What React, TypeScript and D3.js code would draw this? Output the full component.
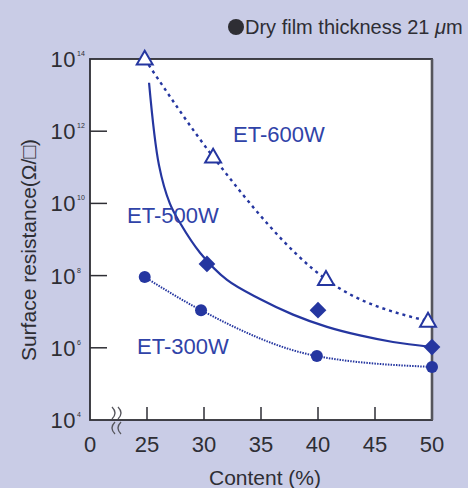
import React from "react";
import * as d3 from "d3";

// ---- data ----
const xTickValues = [25, 30, 35, 40, 45, 50];
const xZeroLabel = "0";
const yTickExps = [4, 6, 8, 10, 12, 14];

const et600X = [24.8, 30.8, 40.7, 49.65];
const et600Y = [1e14, 1.95e11, 7.9e7, 5.5e6];

const et500X = [30.26, 40.0, 50.0];
const et500Y = [2.1e8, 1.1e7, 1.05e6];
const et500FitX = [25.18, 26.05, 27.0, 27.89, 29.65, 32.02, 34.91, 37.81, 40.79, 43.68, 46.58, 50.0];
const et500FitY = [2.2e13, 1.15e11, 1e10, 2.9e9, 4.3e8, 7.6e7, 2.25e7, 8.3e6, 3.8e6, 2.2e6, 1.45e6, 1.05e6];

const et300X = [24.8, 29.74, 39.9, 50.0];
const et300Y = [9.1e7, 1.1e7, 5.9e5, 2.95e5];

const seriesLabels = ["ET-600W", "ET-500W", "ET-300W"];

const W = 468;
const H = 488;
const L = 90, R = 432, T = 59, B = 420;

const BLUE = "#2536a0";
const TEXT_BLUE = "#3043a8";
const GRAY = "#2e2e34";

export default function App() {
  const x = d3.scaleLinear().domain([20, 50]).range([L, R]);
  const y = d3.scaleLog().domain([1e4, 1e14]).range([B, T]);

  const pts = (xs: number[], ys: number[]) => xs.map((v, i) => [x(v), y(ys[i])] as [number, number]);

  const mono = d3.line().curve(d3.curveMonotoneX);
  const cr = d3.line().curve(d3.curveCatmullRom.alpha(0.5));

  const p600 = pts(et600X, et600Y);
  const p500 = pts(et500X, et500Y);
  const p500fit = pts(et500FitX, et500FitY);
  const p300 = pts(et300X, et300Y);

  const tri = d3.symbol().type(d3.symbolTriangle).size(110)();
  const sq = d3.symbol().type(d3.symbolSquare).size(140)();

  const font = "'Liberation Sans', Arial, Helvetica, sans-serif";

  return (
    <svg width={W} height={H} style={{ position: "absolute", left: 0, top: 0 }} fontFamily={font}>
      <rect x={0} y={0} width={W} height={H} fill="#c9cce6" />
      <rect x={L} y={T} width={R - L} height={B - T} fill="#ffffff" />

      {/* y ticks */}
      {yTickExps.filter((e) => e > 4 && e < 14).map((e) => (
        <line key={"yt" + e} x1={L} x2={L + 17} y1={y(Math.pow(10, e))} y2={y(Math.pow(10, e))} stroke={GRAY} strokeWidth={1.5} />
      ))}
      {/* x ticks */}
      {xTickValues.filter((v) => v < 50).map((v) => (
        <line key={"xt" + v} x1={x(v)} x2={x(v)} y1={B} y2={B - 13} stroke={GRAY} strokeWidth={1.5} />
      ))}

      {/* border */}
      <rect x={L} y={T} width={R - L} height={B - T} fill="none" stroke={GRAY} strokeWidth={1.8} />
      <line x1={R} x2={R} y1={T} y2={B} stroke="#55555c" strokeWidth={2.6} />

      {/* axis break marks */}
      <g stroke="#55555c" strokeWidth={1.3} fill="none">
        <path d={`M${L + 22},${B - 13} q6,6 0,12`} />
        <path d={`M${L + 28},${B - 13} q6,6 0,12`} />
        <path d={`M${L + 25},${B + 2} q-6,6 0,12`} />
        <path d={`M${L + 31},${B + 2} q-6,6 0,12`} />
      </g>

      {/* y tick labels */}
      {yTickExps.map((e) => {
        const ty = y(Math.pow(10, e));
        return (
          <g key={"yl" + e} fill={GRAY}>
            <text x={76} y={ty + 8} fontSize={22} textAnchor="end" letterSpacing={0.5}>10</text>
            <text x={77} y={ty - 3} fontSize={7}>{e}</text>
          </g>
        );
      })}

      {/* x tick labels */}
      <text x={L} y={452} fontSize={22} textAnchor="middle" fill={GRAY}>{xZeroLabel}</text>
      {xTickValues.map((v) => (
        <text key={"xl" + v} x={x(v)} y={452} fontSize={22} textAnchor="middle" fill={GRAY}>{v}</text>
      ))}

      {/* axis titles */}
      <text x={(L + R) / 2 + 4} y={485} fontSize={21} textAnchor="middle" fill={GRAY}>Content (%)</text>
      <text transform={`translate(36,250) rotate(-90)`} fontSize={21} textAnchor="middle" fill={GRAY}>Surface resistance(Ω/□)</text>

      {/* note */}
      <circle cx={236} cy={27} r={8} fill={GRAY} />
      <text x={245} y={34} fontSize={20} fill={GRAY}>Dry film thickness 21 <tspan fontStyle="italic">μ</tspan>m</text>

      {/* lines */}
      <path d={mono(p600) || ""} fill="none" stroke={BLUE} strokeWidth={2.4} strokeDasharray="3 4" />
      <path d={cr(p500fit) || ""} fill="none" stroke={BLUE} strokeWidth={2.2} />
      <path d={mono(p300) || ""} fill="none" stroke={BLUE} strokeWidth={2} strokeDasharray="1.5 1.2" />

      {/* markers */}
      {p600.map((p, i) => (
        <path key={"tr" + i} d={tri || ""} transform={`translate(${p[0]},${p[1] + 1})`} fill="#ffffff" stroke={BLUE} strokeWidth={2} />
      ))}
      {p500.map((p, i) => (
        <path key={"dm" + i} d={sq || ""} transform={`translate(${p[0]},${p[1]}) rotate(45)`} fill={BLUE} />
      ))}
      {p300.map((p, i) => (
        <circle key={"ci" + i} cx={p[0]} cy={p[1]} r={6} fill={BLUE} />
      ))}

      {/* series labels */}
      <text x={233} y={142} fontSize={22} fill={TEXT_BLUE}>{seriesLabels[0]}</text>
      <text x={127} y={223} fontSize={22} fill={TEXT_BLUE}>{seriesLabels[1]}</text>
      <text x={137} y={354} fontSize={22} fill={TEXT_BLUE}>{seriesLabels[2]}</text>
    </svg>
  );
}
